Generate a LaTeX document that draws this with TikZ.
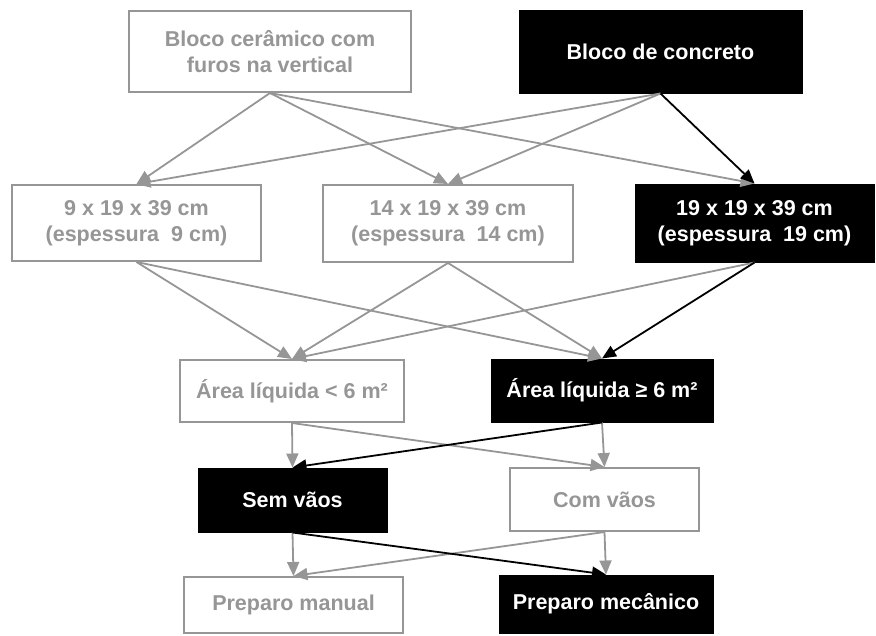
\documentclass[tikz,border=0pt]{standalone}
\usepackage{fontspec}
\setmainfont{Liberation Sans}
\usetikzlibrary{arrows.meta}
\definecolor{opcao}{RGB}{150,150,150}

\begin{document}
\begin{tikzpicture}[x=1pt, y=-1pt,
    font=\fontsize{21.5}{26}\selectfont\bfseries,
    livre/.style={draw=opcao, line width=2pt, fill=white, text=opcao, align=center, inner sep=0pt},
    escolha/.style={draw=black, line width=1pt, fill=black, text=white, align=center, inner sep=0pt},
    seta/.style={draw=opcao, line width=1.8pt, -{Triangle[length=14pt,width=12pt]}},
    setaesc/.style={seta, draw=black}]
    \useasboundingbox (0,0) rectangle (876,635);

    % Tipo de bloco
    \node[livre, minimum width=282, minimum height=81] (ceramico) at (270,51.5) {Bloco cerâmico com\\furos na vertical};
    \node[escolha, minimum width=283, minimum height=83] (concreto) at (660.5,51.5) {Bloco de concreto};

    % Dimensoes
    \node[livre, minimum width=249, minimum height=76] (esp9) at (136.5,223) {9 x 19 x 39 cm\\(espessura\ \ 9 cm)};
    \node[livre, minimum width=250, minimum height=77] (esp14) at (448,223.5) {14 x 19 x 39 cm\\(espessura\ \ 14 cm)};
    \node[escolha, minimum width=239, minimum height=78] (esp19) at (754.5,223) {19 x 19 x 39 cm\\(espessura\ \ 19 cm)};

    % Area liquida
    \node[livre, minimum width=224, minimum height=62] (menor) at (292,391) {Área líquida < 6 m²};
    \node[escolha, minimum width=222, minimum height=63] (maior) at (602,390.5) {Área líquida ≥ 6 m²};

    % Vaos
    \node[escolha, minimum width=189, minimum height=64] (semvaos) at (292.5,500) {Sem vãos};
    \node[livre, minimum width=189, minimum height=63] (comvaos) at (604.5,499.5) {Com vãos};

    % Preparo
    \node[livre, minimum width=219, minimum height=56] (manual) at (293.5,605) {Preparo manual};
    \node[escolha, minimum width=214, minimum height=58] (mecanico) at (606,604) {Preparo mecânico};

    % Setas
    \draw[seta] (ceramico.south) -- (esp9.north);
    \draw[seta] (ceramico.south) -- (esp14.north);
    \draw[seta] (ceramico.south) -- (esp19.north);
    \draw[seta] (concreto.south) -- (esp9.north);
    \draw[seta] (concreto.south) -- (esp14.north);

    \draw[seta] (esp9.south) -- (menor.north);
    \draw[seta] (esp9.south) -- (maior.north);
    \draw[seta] (esp14.south) -- (menor.north);
    \draw[seta] (esp14.south) -- (maior.north);
    \draw[seta] (esp19.south) -- (menor.north);

    \draw[seta] (menor.south) -- (semvaos.north);
    \draw[seta] (menor.south) -- (comvaos.north);
    \draw[seta] (maior.south) -- (comvaos.north);

    \draw[seta] (semvaos.south) -- (manual.north);
    \draw[seta] (comvaos.south) -- (manual.north);
    \draw[seta] (comvaos.south) -- (mecanico.north);

    % Caminho escolhido
    \draw[setaesc] (concreto.south) -- (esp19.north);
    \draw[setaesc] (esp19.south) -- (maior.north);
    \draw[setaesc] (maior.south) -- (semvaos.north);
    \draw[setaesc] (semvaos.south) -- (mecanico.north);
\end{tikzpicture}
\end{document}
